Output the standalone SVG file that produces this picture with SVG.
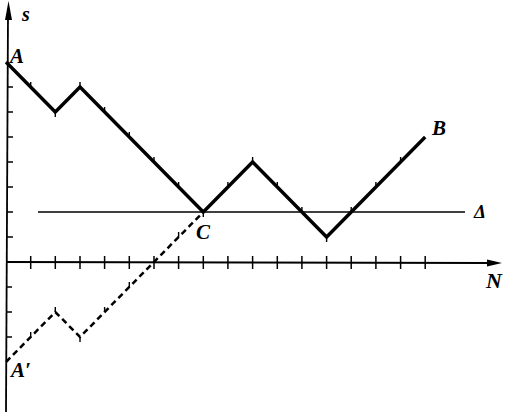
<svg xmlns="http://www.w3.org/2000/svg" width="507" height="412" viewBox="0 0 507 412">
<style>
.ax{stroke:#000;stroke-width:1.8;fill:none}
.tk{stroke:#000;stroke-width:1.5}
.pt{stroke:#000;stroke-width:3.4;fill:none;stroke-linejoin:miter}
.dp{stroke:#000;stroke-width:2.5;fill:none;stroke-dasharray:6,4}
.st{stroke:#000;stroke-width:1.4}
.dl{stroke:#000;stroke-width:1.6}
.lb{font-family:"Liberation Serif",serif;font-style:italic;font-weight:bold;fill:#000}
</style>
<rect width="507" height="412" fill="#fff"/>
<g id="axes">
<line class="ax" x1="8" y1="14" x2="6" y2="412"/>
<polygon points="8.5,1 5,20 12,20" fill="#000"/>
<line class="ax" x1="6" y1="262" x2="490" y2="263"/>
<polygon points="502,263 487,259.5 487,266.5" fill="#000"/>
<g class="tk">
<line x1="30.7" y1="256" x2="30.7" y2="269"/>
<line x1="55.3" y1="256" x2="55.3" y2="269"/>
<line x1="80" y1="256" x2="80" y2="269"/>
<line x1="104.6" y1="256" x2="104.6" y2="269"/>
<line x1="129.3" y1="256" x2="129.3" y2="269"/>
<line x1="154" y1="256" x2="154" y2="269"/>
<line x1="178.6" y1="256" x2="178.6" y2="269"/>
<line x1="203.3" y1="256" x2="203.3" y2="269"/>
<line x1="227.9" y1="256" x2="227.9" y2="269"/>
<line x1="252.6" y1="256" x2="252.6" y2="269"/>
<line x1="277.3" y1="256" x2="277.3" y2="269"/>
<line x1="301.9" y1="256" x2="301.9" y2="269"/>
<line x1="326.6" y1="256" x2="326.6" y2="269"/>
<line x1="351.2" y1="256" x2="351.2" y2="269"/>
<line x1="375.9" y1="256" x2="375.9" y2="269"/>
<line x1="400.6" y1="256" x2="400.6" y2="269"/>
<line x1="425.2" y1="256" x2="425.2" y2="269"/>
<line x1="7" y1="87" x2="13" y2="87"/>
<line x1="7" y1="112" x2="13" y2="112"/>
<line x1="7" y1="137" x2="13" y2="137"/>
<line x1="7" y1="162" x2="13" y2="162"/>
<line x1="7" y1="187" x2="13" y2="187"/>
<line x1="7" y1="212" x2="13" y2="212"/>
<line x1="7" y1="237" x2="13" y2="237"/>
<line x1="6" y1="287" x2="12" y2="287"/>
<line x1="6" y1="312" x2="12" y2="312"/>
<line x1="6" y1="337" x2="12" y2="337"/>
</g>
<text class="lb" x="22" y="21" font-size="20">s</text>
<text class="lb" x="486" y="288" font-size="22">N</text>
</g>
<g id="delta">
<line class="dl" x1="38" y1="212" x2="465" y2="212"/>
<text class="lb" x="474" y="218" font-size="19">Δ</text>
</g>
<g id="connectors">
<g id="path-AB">
<polyline class="pt" points="6,62 55.3,112 80,87 203.3,212 252.6,162 326.6,237 425.2,137"/>
<g class="st">
<line x1="30.7" y1="87" x2="30.7" y2="82"/>
<line x1="55.3" y1="112" x2="55.3" y2="117"/>
<line x1="80" y1="87" x2="80" y2="82"/>
<line x1="104.6" y1="112" x2="104.6" y2="107"/>
<line x1="129.3" y1="137" x2="129.3" y2="132"/>
<line x1="154" y1="162" x2="154" y2="157"/>
<line x1="178.6" y1="187" x2="178.6" y2="182"/>
<line x1="203.3" y1="212" x2="203.3" y2="217"/>
<line x1="227.9" y1="187" x2="227.9" y2="182"/>
<line x1="252.6" y1="162" x2="252.6" y2="157"/>
<line x1="277.3" y1="187" x2="277.3" y2="182"/>
<line x1="301.9" y1="212" x2="301.9" y2="207"/>
<line x1="326.6" y1="237" x2="326.6" y2="242"/>
<line x1="351.2" y1="212" x2="351.2" y2="207"/>
<line x1="375.9" y1="187" x2="375.9" y2="182"/>
<line x1="400.6" y1="162" x2="400.6" y2="157"/>
</g>
</g>
<g id="path-AprimeC">
<polyline class="dp" points="6,362 55.3,312 80,337 203.3,212"/>
<g class="st">
<line x1="30.7" y1="337" x2="30.7" y2="332"/>
<line x1="55.3" y1="312" x2="55.3" y2="307"/>
<line x1="80" y1="337" x2="80" y2="342"/>
<line x1="104.6" y1="312" x2="104.6" y2="307"/>
<line x1="129.3" y1="287" x2="129.3" y2="282"/>
<line x1="178.6" y1="237" x2="178.6" y2="232"/>
</g>
</g>
</g>
<g id="A"><text class="lb" x="10" y="63" font-size="21">A</text></g>
<g id="B"><text class="lb" x="432" y="135" font-size="21">B</text></g>
<g id="C"><text class="lb" x="196" y="239" font-size="21">C</text></g>
<g id="Aprime"><text class="lb" x="11" y="377" font-size="21">A′</text></g>
</svg>
